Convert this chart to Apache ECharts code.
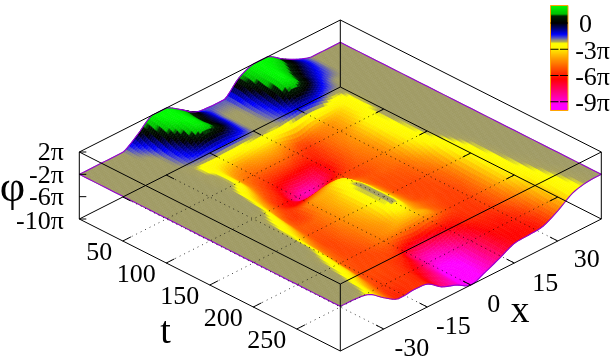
<!DOCTYPE html>
<html><head><meta charset="utf-8">
<style>html,body{margin:0;padding:0;background:#fff}#c{width:616px;height:360px}</style>
<script src="https://cdn.jsdelivr.net/npm/echarts@6/dist/echarts.min.js"></script>
</head><body><div id="c"></div>
<script>
// ---- data (phi in units of pi) ----
const xValues = [-45,-40,-35,-30,-25,-20,-15,-10,-5,0,5,10,15,20,25,30,35,40,45];
const tValues = [0,10,20,30,40,50,60,70,80,90,100,110,120,130,140,150,160,170,180,190,200,210,220,230,240,250,260,270,280,290,300];
const phi = [
[-2,-2,-2,-2,-0.2,2,2,0.4,-1.35,-1.7,-1.75,0.8,2,2,0.3,-1.1,-2,-2,-2],
[-2,-2,-2,-2,-1.0,1.7,2,0.7,-0.7,-1.9,-1.8,0.6,2,1.6,0.3,-1.0,-2,-2,-2],
[-2,-2,-2,-2,-1.6,1.2,2,0.5,-0.7,-2,-1.9,-0.1,2,1.2,-0.1,-1.2,-2,-2,-2],
[-2,-2,-2,-2,-1.9,0.2,2,0.4,-0.7,-2,-1.95,-0.6,2,0.8,-0.5,-1.5,-2,-2,-2],
[-2,-2,-2,-2,-1.9,-0.6,1.4,0.6,-0.8,-2,-1.95,-1.0,1.5,0.5,-0.9,-1.9,-2,-2,-2],
[-2,-2,-2,-2,-2,-1.3,-0.8,-0.7,-1.2,-2,-2,-1.4,-0.2,-0.6,-1.6,-2,-2,-2,-2],
[-2,-2,-2,-2,-2.05,-2.4,-2.6,-2.6,-2.4,-2.2,-2.3,-2.0,-1.7,-1.9,-2.5,-2.05,-2,-2,-2],
[-2,-2,-2,-2,-2.05,-2.5,-3.6,-4.2,-3.8,-3.6,-4.2,-5.0,-4.2,-3.9,-3.2,-2.1,-2,-2,-2],
[-2,-2,-2,-2,-2.05,-2.4,-4.2,-4.8,-4.6,-4.6,-5.2,-5.7,-4.8,-4.2,-3.2,-2.1,-2,-2,-2],
[-2,-2,-2,-2,-2.05,-2.4,-4.4,-5.3,-5.6,-5.6,-6.0,-5.8,-4.8,-4.2,-3.0,-2.05,-2,-2,-2],
[-2,-2,-2,-2,-2.03,-2.5,-4.6,-5.7,-6.5,-7,-7,-5.8,-4.8,-4.0,-2.7,-2,-2,-2,-2],
[-2,-2,-2,-2,-2.05,-3.0,-5.0,-6.0,-7.5,-8.5,-7.5,-5.8,-4.8,-4.0,-2.7,-2,-2,-2,-2],
[-2,-2,-2,-2,-2.05,-3.6,-5.4,-6.3,-8.0,-8.0,-6.8,-5.6,-4.8,-4.2,-2.8,-2,-2,-2,-2],
[-2,-2,-2,-2,-2.1,-4.0,-5.6,-6.5,-6.5,-6.0,-5.6,-5.4,-4.9,-4.3,-2.9,-2.05,-2,-2,-2],
[-2,-2,-2,-2,-2.2,-4.4,-5.6,-5.5,-4.8,-4.3,-5,-5.4,-5,-4.4,-3.0,-2.05,-2,-2,-2],
[-2,-2,-2,-2.03,-2.4,-4.8,-5.6,-4.3,-3.8,-2.9,-4.4,-5.2,-5,-4.6,-3.2,-2.1,-2,-2,-2],
[-2,-2,-2,-2.05,-2.7,-5.0,-5.4,-4.2,-3.6,-2.4,-4.2,-5.3,-5.2,-4.9,-3.6,-2.2,-2,-2,-2],
[-2,-2,-2,-2.05,-3.0,-5.1,-5.0,-4.2,-3.4,-2.1,-3.9,-5.3,-5.3,-5,-4.1,-2.4,-2,-2,-2],
[-2,-2,-2,-2.1,-3.4,-5.2,-5.0,-4.2,-3.4,-2.0,-3.9,-5.3,-5.4,-5.2,-4.4,-2.6,-2,-2,-2],
[-2,-2,-2,-2.1,-3.8,-5.3,-5.0,-4.2,-3.4,-2.0,-3.8,-5.2,-5.4,-5.3,-4.6,-2.8,-2.05,-2,-2],
[-2,-2,-2,-2.15,-4.2,-5.4,-5.0,-4.3,-3.5,-2.0,-3.8,-5.2,-5.4,-5.4,-4.7,-2.9,-2.05,-2,-2],
[-2,-2,-2,-2.2,-4.4,-5.4,-5.1,-4.4,-3.7,-2.05,-3.9,-5,-5.4,-5.5,-4.8,-3,-2.1,-2,-2],
[-2,-2,-2,-2.3,-4.6,-5.4,-5.2,-4.5,-4.0,-2.9,-4.0,-5,-5.5,-5.5,-4.8,-3.1,-2.1,-2,-2],
[-2,-2,-2,-2.5,-4.8,-5.4,-5.3,-4.6,-4.1,-4.0,-3.8,-5,-5.6,-5.6,-4.8,-3.2,-2.15,-2,-2],
[-2,-2,-2,-2.7,-5.0,-5.4,-5.4,-5.2,-6,-6.5,-6,-6.0,-5.7,-5.6,-4.9,-3.3,-2.2,-2,-2],
[-2,-2,-2,-2.9,-5.1,-5.4,-5.4,-5.8,-7.6,-8.4,-7.8,-6.6,-5.8,-5.7,-5.0,-3.6,-2.3,-2,-2],
[-2,-2,-2.05,-3.1,-5.3,-5.4,-5.6,-6.2,-7.8,-9.0,-8.6,-7.2,-6.1,-5.9,-5.2,-3.9,-2.4,-2,-2],
[-2,-2,-2.1,-3.5,-5.4,-5.5,-5.7,-6.6,-8.2,-9.6,-9.2,-7.5,-6.3,-6.1,-5.5,-4.1,-2.5,-2.05,-2],
[-2,-2,-2.2,-3.9,-5.6,-5.6,-5.8,-7,-8.4,-10,-9.3,-7.6,-6.4,-6.2,-5.7,-4.3,-2.6,-2.05,-2],
[-2,-2,-2.3,-4.2,-5.8,-5.7,-5.9,-7.4,-8.6,-10,-9.2,-7.7,-6.5,-6.3,-5.9,-4.5,-2.7,-2.1,-2],
[-2,-2.05,-2.5,-4.4,-5.9,-5.7,-5.9,-7.7,-8.7,-10,-9,-7.8,-6.5,-6.3,-6,-4.6,-2.8,-2.1,-2]
];
const tTicks = [50,100,150,200,250];
const xTicks = [-30,-15,0,15,30];
const xTickLabels = ['-30','-15','0','15','30'];
const zTicks = [2,-2,-6,-10];
const zTickLabels = ['2π','-2π','-6π','-10π'];
const cbTicks = [0,-3,-6,-9];
const cbTickLabels = ['0','-3π','-6π','-9π'];
const paletteZ = [2,1.0,0.8,0,-0.6,-1.3,-1.75,-2,-2.15,-2.3,-2.9,-3.95,-5.0,-5.6,-6.4,-9.4,-10];
const paletteC = [[0,250,0],[0,190,0],[0,30,0],[0,0,0],[0,0,110],[0,0,255],[90,90,190],[160,155,100],[168,160,92],[255,255,0],[255,245,0],[255,165,0],[255,95,0],[255,55,0],[255,0,0],[255,0,255],[255,0,255]];

// ---- projection of (t, x, phi) on the page plane ----
const T0=79.3, Y0=219, SIDE=261, DROP=132, ZPX=67/12;
const tMin=0,tMax=300,xMin=-45,xMax=45;
function proj(t,x,z){
  const a=(t-tMin)/(tMax-tMin), b=(x-xMin)/(xMax-xMin);
  return [T0+SIDE*a+SIDE*b, Y0+DROP*a-DROP*b-(z+10)*ZPX];
}
function rgb(c){return 'rgb('+Math.round(c[0])+','+Math.round(c[1])+','+Math.round(c[2])+')';}
function color(z){
  if(z>=paletteZ[0])return rgb(paletteC[0]);
  for(let i=1;i<paletteZ.length;i++){
    if(z>=paletteZ[i]){
      const f=(z-paletteZ[i])/(paletteZ[i-1]-paletteZ[i]);
      const a=paletteC[i],b=paletteC[i-1];
      return rgb([a[0]+(b[0]-a[0])*f,a[1]+(b[1]-a[1])*f,a[2]+(b[2]-a[2])*f]);
    }
  }
  return rgb(paletteC[paletteC.length-1]);
}
// smooth drawing between the grid nodes, clamped so it never leaves a cell's range
function cr(p0,p1,p2,p3,f){
  const v=0.5*(2*p1+(p2-p0)*f+(2*p0-5*p1+4*p2-p3)*f*f+(3*p1-p0-3*p2+p3)*f*f*f);
  return Math.min(Math.max(p1,p2),Math.max(Math.min(p1,p2),v));
}
const nT=tValues.length,nX=xValues.length;
const cl=(i,n)=>Math.max(0,Math.min(n-1,i));
function rowAt(i,j,v){const r=phi[cl(i,nT)];return cr(r[cl(j-1,nX)],r[j],r[cl(j+1,nX)],r[cl(j+2,nX)],v);}
function phiAt(i,j,u,v){return cr(rowAt(i-1,j,v),rowAt(i,j,v),rowAt(i+1,j,v),rowAt(i+2,j,v),u);}

const SUB=5;
function renderSurface(params,api){
  const kids=[];
  const N=(nT-1)*SUB+1,M=(nX-1)*SUB+1;
  const Z=[],PX=[];
  for(let a=0;a<N;a++){
    const i=Math.min(nT-2,Math.floor(a/SUB)),u=a/SUB-i;
    const t=tValues[i]+(tValues[i+1]-tValues[i])*u;
    Z.push([]);PX.push([]);
    for(let b=0;b<M;b++){
      const j=Math.min(nX-2,Math.floor(b/SUB)),v=b/SUB-j;
      const x=xValues[j]+(xValues[j+1]-xValues[j])*v;
      const z=phiAt(i,j,u,v);
      Z[a].push(z);PX[a].push(api.coord(proj(t,x,z)));
    }
  }
  for(let a=0;a<N-1;a++){
    for(let b=M-2;b>=0;b--){
      const col=color((Z[a][b]+Z[a][b+1]+Z[a+1][b]+Z[a+1][b+1])/4);
      kids.push({type:'polygon',shape:{points:[PX[a][b],PX[a][b+1],PX[a+1][b+1],PX[a+1][b]]},style:{fill:col,stroke:col,lineWidth:0.6}});
    }
  }
  return {type:'group',children:kids};
}
function line(api,pts,style){return {type:'polyline',shape:{points:pts.map(p=>api.coord(p))},style:Object.assign({fill:null,stroke:'#000',lineWidth:1},style||{})};}
function renderEdges(params,api){
  const st={stroke:'#9400d3',lineWidth:1.1};
  const last=nT-1,lastX=nX-1;
  const alongX=(i,t)=>{const p=[];for(let j=0;j<nX-1;j++)for(let s=0;s<SUB;s++){const v=s/SUB;p.push(proj(t,xValues[j]+(xValues[j+1]-xValues[j])*v,rowAt(i,j,v)));}p.push(proj(t,xMax,phi[i][lastX]));return p;};
  return {type:'group',children:[
    line(api,alongX(0,tMin),st),
    line(api,alongX(last,tMax),st),
    line(api,tValues.map((t,i)=>proj(t,xMin,phi[i][0])),st),
    line(api,tValues.map((t,i)=>proj(t,xMax,phi[i][lastX])),st)
  ]};
}
const xLabelShift=[[28,20],[26,20],[23,20],[31,21],[29,19]];
function renderFrame(params,api){
  const kids=[];
  const zb=-10,zt=2;
  const dot={lineDash:[1,4],stroke:'#000',lineWidth:1,opacity:0.75};
  tTicks.forEach(t=>{
    kids.push(line(api,[proj(t,xMin,zb),proj(t,xMax,zb)],dot));
    kids.push(line(api,[proj(t,xMin,zb),proj(t,xMin+2.8,zb)]));
    kids.push(line(api,[proj(t,xMax,zb),proj(t,xMax-2.8,zb)]));
  });
  xTicks.forEach(x=>{
    kids.push(line(api,[proj(tMin,x,zb),proj(tMax,x,zb)],dot));
    kids.push(line(api,[proj(tMax,x,zb),proj(tMax-9,x,zb)]));
    kids.push(line(api,[proj(tMin,x,zb),proj(tMin+9,x,zb)]));
  });
  [zb,zt].forEach(z=>{
    kids.push(line(api,[proj(tMin,xMin,z),proj(tMax,xMin,z),proj(tMax,xMax,z),proj(tMin,xMax,z),proj(tMin,xMin,z)]));
  });
  [[tMin,xMin],[tMax,xMin],[tMax,xMax],[tMin,xMax]].forEach(c=>{
    kids.push(line(api,[proj(c[0],c[1],zb),proj(c[0],c[1],zt)]));
  });
  zTicks.forEach(z=>{
    const p=proj(tMin,xMin,z);
    kids.push(line(api,[p,[p[0]+7,p[1]]]));
  });
  const txt=(s,p,align,size)=>({type:'text',x:api.coord(p)[0],y:api.coord(p)[1],style:{text:s,fill:'#000',font:(size||26)+'px "Liberation Serif"',align:align||'center',verticalAlign:'middle'}});
  zTicks.forEach((z,i)=>{
    const p=proj(tMin,xMin,z);
    kids.push(txt(zTickLabels[i],[p[0]-15.5,p[1]+(i===3?3:1.5)],'right'));
  });
  tTicks.forEach(t=>{
    const p=proj(t,xMin,zb);
    kids.push(txt(String(t),[p[0]-10.5,p[1]+12],'right'));
  });
  xTicks.forEach((x,i)=>{
    const p=proj(tMax,x,zb);
    kids.push(txt(xTickLabels[i],[p[0]+xLabelShift[i][0],p[1]+xLabelShift[i][1]]));
  });
  kids.push(txt('φ',[12.5,189],'center',44));
  kids.push(txt('t',[165.5,333],'center',38));
  kids.push(txt('x',[520,312],'center',38));
  return {type:'group',children:kids};
}
const CB={l:550.5,r:568,top:5.5,bot:110.5};
function cbY(z){return CB.top+(2-z)/12*(CB.bot-CB.top);}
function renderBar(params,api){
  const kids=[];
  const n=105;
  for(let k=0;k<n;k++){
    const z0=2-12*k/n,z1=2-12*(k+1)/n;
    const a=api.coord([CB.l,cbY(z0)]),b=api.coord([CB.r,cbY(z1)]);
    kids.push({type:'rect',shape:{x:a[0],y:a[1],width:b[0]-a[0],height:b[1]-a[1]+0.5},style:{fill:color((z0+z1)/2)}});
  }
  const p=api.coord([CB.l,CB.top]),q=api.coord([CB.r,CB.bot]);
  kids.push({type:'rect',shape:{x:p[0],y:p[1],width:q[0]-p[0],height:q[1]-p[1]},style:{fill:null,stroke:'#ffa500',lineWidth:1}});
  cbTicks.forEach((z,i)=>{
    const y=cbY(z);
    kids.push(line(api,[[CB.l,y],[CB.l+8,y]]));
    kids.push(line(api,[[CB.r-8,y],[CB.r,y]]));
    const a=api.coord([610,y+2.5]);
    kids.push({type:'text',x:i===0?api.coord([585.5,y+2.5])[0]:a[0],y:a[1],style:{text:cbTickLabels[i],fill:'#000',font:'26px "Liberation Serif"',align:i===0?'center':'right',verticalAlign:'middle'}});
  });
  return {type:'group',children:kids};
}
const chart=echarts.init(document.getElementById('c'),null,{renderer:'canvas',width:616,height:360});
chart.setOption({
  animation:false,
  backgroundColor:'#fff',
  grid:{left:0,right:0,top:0,bottom:0},
  xAxis:{type:'value',min:0,max:616,show:false},
  yAxis:{type:'value',min:0,max:360,inverse:true,show:false},
  series:[
    {type:'custom',coordinateSystem:'cartesian2d',data:[[0,0]],clip:false,renderItem:renderSurface,silent:true,z:1},
    {type:'custom',coordinateSystem:'cartesian2d',data:[[0,0]],clip:false,renderItem:renderEdges,silent:true,z:2},
    {type:'custom',coordinateSystem:'cartesian2d',data:[[0,0]],clip:false,renderItem:renderFrame,silent:true,z:3},
    {type:'custom',coordinateSystem:'cartesian2d',data:[[0,0]],clip:false,renderItem:renderBar,silent:true,z:4}
  ]
});
</script></body></html>
